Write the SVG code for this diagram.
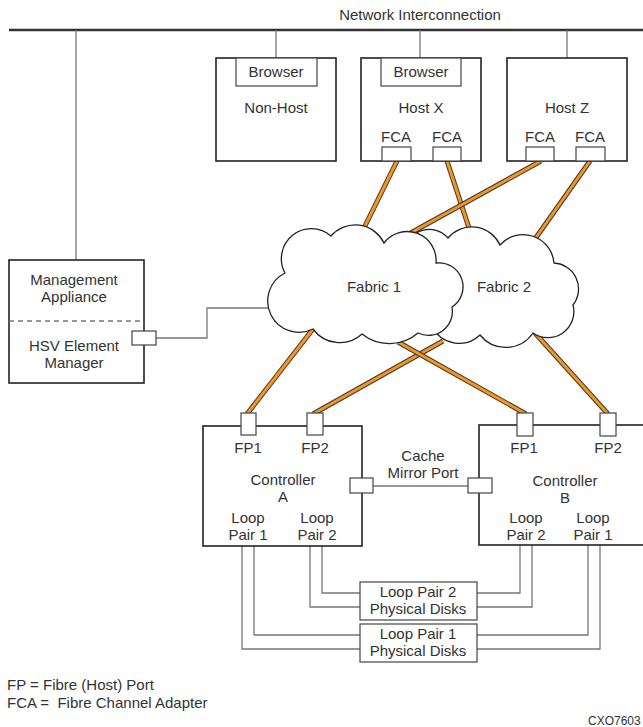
<svg xmlns="http://www.w3.org/2000/svg" width="643" height="727" viewBox="0 0 643 727">
<style>
text{font-family:"Liberation Sans",Arial,sans-serif;font-size:15px;fill:#333;text-anchor:middle}
.lg{text-anchor:start;white-space:pre}
.box{fill:#fff;stroke:#222;stroke-width:1.6}
.sbox{fill:#fff;stroke:#444;stroke-width:1.2}
.wire{fill:none;stroke:#777;stroke-width:1.3}
.fo{fill:none;stroke:#3a3a3a;stroke-width:5;stroke-linecap:butt}
.fi{fill:none;stroke:#f7941d;stroke-width:3;stroke-linecap:butt}
.cloud{fill:#fff;stroke:#222;stroke-width:1.3}
</style>
<defs>
<path id="l1" d="M397,161 L364,228"/>
<path id="l2" d="M447,161 L469,228"/>
<path id="l3" d="M541,161 L407,235"/>
<path id="l4" d="M590,161 L535,239"/>
<path id="l5" d="M313,329 L247,414"/>
<path id="l6" d="M443,341 L313,414"/>
<path id="l7" d="M398,342 L526,414"/>
<path id="l8" d="M535,333 L608,414"/>
</defs>
<g id="connectors">
<line x1="9" y1="30" x2="643" y2="30" stroke="#333" stroke-width="2.5"/>
<line class="wire" x1="76" y1="30" x2="76" y2="260"/>
<line class="wire" x1="276" y1="30" x2="276" y2="58"/>
<line class="wire" x1="420" y1="30" x2="420" y2="58"/>
<line class="wire" x1="567" y1="30" x2="567" y2="58"/>
<path class="wire" d="M156,338 H207 V308 H275"/>
<line class="wire" x1="373" y1="486" x2="468" y2="486"/>
<path class="wire" d="M322,546 V593 H360"/>
<path class="wire" d="M310,546 V607 H360"/>
<path class="wire" d="M254,546 V635 H360"/>
<path class="wire" d="M242,546 V649 H360"/>
<path class="wire" d="M520,545 V593 H477"/>
<path class="wire" d="M532,545 V607 H477"/>
<path class="wire" d="M588,545 V635 H477"/>
<path class="wire" d="M600,545 V649 H477"/>
<g id="fibre">
<use href="#l1" class="fo"/><use href="#l1" class="fi"/>
<use href="#l2" class="fo"/><use href="#l2" class="fi"/>
<use href="#l3" class="fo"/><use href="#l3" class="fi"/>
<use href="#l4" class="fo"/><use href="#l4" class="fi"/>
<use href="#l5" class="fo"/><use href="#l5" class="fi"/>
<use href="#l6" class="fo"/><use href="#l6" class="fi"/>
<use href="#l7" class="fo"/><use href="#l7" class="fi"/>
<use href="#l8" class="fo"/><use href="#l8" class="fi"/>
</g>
</g>
<text x="420" y="20">Network Interconnection</text>
<g id="fabric2">
<path class="cloud" d="M405,248 A25,25 0 0 1 448,238 A31,31 0 0 1 500,245 A31,31 0 0 1 554,263 A26,26 0 0 1 573,305 A26,26 0 0 1 533,333 A33,33 0 0 1 480,335 A30,30 0 0 1 432,326 Z"/>
<text x="504" y="292">Fabric 2</text>
</g>
<g id="fabric1">
<path class="cloud" d="M285,273 A30,30 0 0 1 331,236 A32,32 0 0 1 384,243 A29,29 0 0 1 436,263 A24,24 0 0 1 452,307 A24,24 0 0 1 418,333 A44,44 0 0 1 362,334 A33,33 0 0 1 313,329 A31,31 0 0 1 285,273 Z"/>
<text x="374" y="292">Fabric 1</text>
</g>
<g id="nonhost">
<rect class="box" x="216" y="58" width="120" height="103"/>
<rect class="sbox" x="236" y="58" width="81" height="28"/>
<text x="276" y="77">Browser</text>
<text x="276" y="113">Non-Host</text>
</g>
<g id="hostx">
<rect class="box" x="361" y="58" width="120" height="103"/>
<rect class="sbox" x="381" y="58" width="80" height="28"/>
<text x="421" y="77">Browser</text>
<text x="421" y="113">Host X</text>
<text x="396" y="142">FCA</text>
<text x="447" y="142">FCA</text>
<rect class="sbox" x="382" y="147" width="29" height="14"/>
<rect class="sbox" x="433" y="147" width="28" height="14"/>
</g>
<g id="hostz">
<rect class="box" x="507" y="58" width="120" height="103"/>
<text x="567" y="113">Host Z</text>
<text x="540" y="142">FCA</text>
<text x="590" y="142">FCA</text>
<rect class="sbox" x="526" y="147" width="28" height="14"/>
<rect class="sbox" x="576" y="147" width="29" height="14"/>
</g>
<g id="mgmt">
<rect class="box" x="9" y="260" width="135" height="123"/>
<line x1="9" y1="321" x2="144" y2="321" stroke="#777" stroke-width="1.3" stroke-dasharray="5,4"/>
<rect class="sbox" x="132" y="331" width="24" height="14"/>
<text x="74" y="285">Management</text>
<text x="74" y="302">Appliance</text>
<text x="74" y="351">HSV Element</text>
<text x="74" y="368">Manager</text>
</g>
<g id="ctrlA">
<rect class="box" x="203" y="426" width="159" height="120"/>
<rect class="sbox" x="241" y="413" width="15" height="22"/>
<rect class="sbox" x="307" y="413" width="16" height="22"/>
<rect class="sbox" x="350" y="478" width="23" height="15"/>
<text x="248" y="453">FP1</text>
<text x="315" y="453">FP2</text>
<text x="283" y="485">Controller</text>
<text x="283" y="502">A</text>
<text x="248" y="523">Loop</text>
<text x="248" y="540">Pair 1</text>
<text x="317" y="523">Loop</text>
<text x="317" y="540">Pair 2</text>
</g>
<g id="ctrlB">
<rect class="box" x="479" y="425" width="175" height="120"/>
<rect class="sbox" x="517" y="413" width="16" height="23"/>
<rect class="sbox" x="600" y="413" width="16" height="23"/>
<rect class="sbox" x="468" y="478" width="24" height="15"/>
<text x="524" y="453">FP1</text>
<text x="608" y="453">FP2</text>
<text x="565" y="486">Controller</text>
<text x="565" y="503">B</text>
<text x="526" y="523">Loop</text>
<text x="526" y="540">Pair 2</text>
<text x="593" y="523">Loop</text>
<text x="593" y="540">Pair 1</text>
</g>
<g id="cache">
<text x="423" y="461">Cache</text>
<text x="423" y="478">Mirror Port</text>
</g>
<g id="disks2">
<rect class="sbox" x="360" y="582" width="117" height="38"/>
<text x="418" y="597">Loop Pair 2</text>
<text x="418" y="614">Physical Disks</text>
</g>
<g id="disks1">
<rect class="sbox" x="360" y="624" width="117" height="38"/>
<text x="418" y="639">Loop Pair 1</text>
<text x="418" y="656">Physical Disks</text>
</g>
<g id="legend">
<text class="lg" x="7" y="690">FP = Fibre (Host) Port</text>
<text class="lg" x="7" y="708">FCA =  Fibre Channel Adapter</text>
<text class="lg" x="588" y="725" style="font-size:12px">CXO7603</text>
</g>
</svg>
